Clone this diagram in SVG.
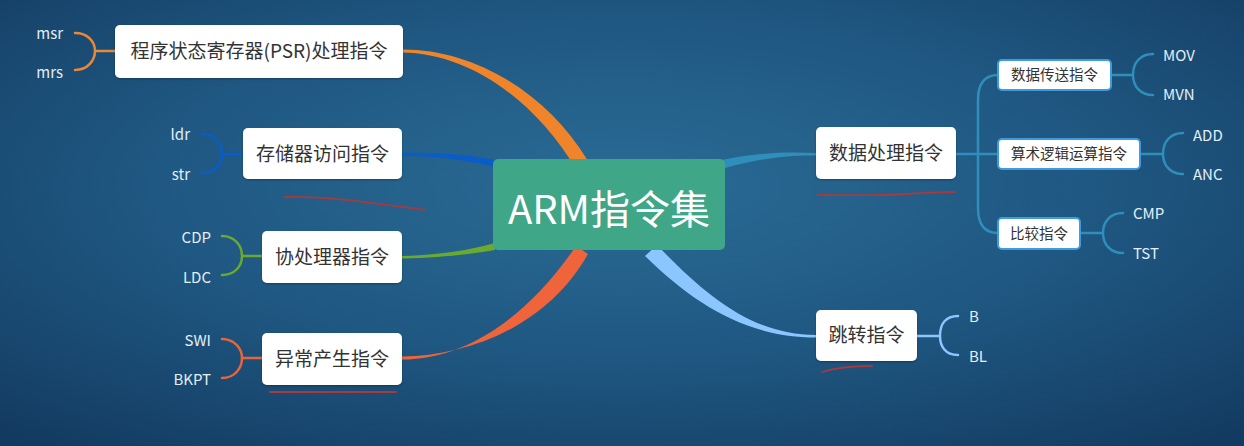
<svg xmlns="http://www.w3.org/2000/svg" width="1244" height="446" viewBox="0 0 1244 446">
<defs>
<radialGradient id="bg" cx="50%" cy="42%" r="75%">
<stop offset="0" stop-color="#2a6b95"/>
<stop offset="0.5" stop-color="#1f5882"/>
<stop offset="1" stop-color="#133a60"/>
</radialGradient>
<filter id="sh" x="-10%" y="-20%" width="120%" height="150%">
<feDropShadow dx="0" dy="1" stdDeviation="1.2" flood-color="#000" flood-opacity="0.3"/>
</filter>
</defs>
<style>
.box{fill:#ffffff;filter:url(#sh)}
.sub{fill:#ffffff;stroke:#3f9ae0;stroke-width:2}
.t{font-family:"Noto Sans CJK SC","Liberation Sans",sans-serif;fill:#333;text-anchor:middle}
.t19{font-size:19px}
.t15{font-size:14.5px}
.leaf{font-family:"Noto Sans CJK SC","Open Sans",sans-serif;font-size:15px;fill:#e4eef6}
.le{text-anchor:end}
.br{fill:none;stroke-width:2.5;stroke-linecap:round}
.ink{fill:none;stroke:#a83a3c;stroke-width:1.8;stroke-linecap:round}
</style>
<rect width="1244" height="446" fill="url(#bg)"/>

<g id="connectors">
<!-- main branches -->
<path d="M402,49.5 C472,49 546,91 588,161 L576,169 C534,99 468,53 402,52.5 Z" fill="#f0842a"/>
<path d="M402,356.5 C470,356 548,325 588,254 L576,246 C530,314 468,359.5 402,359.5 Z" fill="#f0643c"/>
<path d="M402,153 C440,152 470,155 495,160 L495,167 C470,161 440,156 402,155.5 Z" fill="#0a5cc8"/>
<path d="M402,256 C440,255 470,250 495,243 L495,250 C470,254 440,258 402,258.5 Z" fill="#6aaa2e"/>
<path d="M722,160 C760,152 790,152 816,153 L816,155.5 C790,155 760,158 722,169 Z" fill="#2f8fba"/>
<path d="M657,245 C705,295 752,335 816,335 L816,337.5 C748,337.5 695,305 645,256 Z" fill="#8cc6ff"/>
<!-- left brackets -->
<path class="br" stroke="#e8883a" d="M75,33 C88,33 95,42 95,51 C95,60 88,70 75,70 M95,51 L115,51"/>
<path class="br" stroke="#0a5cc8" d="M202,134 C215,134 222,144 222,154 C222,164 215,173 202,173 M222,154 L243,154"/>
<path class="br" stroke="#6aaa2e" d="M222,236 C235,236 242,246 242,256 C242,266 235,275 222,275 M242,256 L262,256"/>
<path class="br" stroke="#e8643c" d="M222,339 C235,339 242,349 242,358 C242,368 235,378 222,378 M242,358 L262,358"/>
<!-- right subtree -->
<path class="br" stroke="#2f8fba" d="M998,75 C983,75 978,85 978,100 L978,208 C978,223 983,233 998,233 M955,154 L998,154"/>
<path class="br" stroke="#2f8fba" d="M1111,75 L1133,75 M1153,54 C1140,54 1133,63 1133,75 C1133,86 1140,95 1153,95"/>
<path class="br" stroke="#2f8fba" d="M1140,154 L1163,154 M1183,133 C1170,133 1163,142 1163,154 C1163,165 1170,174 1183,174"/>
<path class="br" stroke="#2f8fba" d="M1080,233 L1103,233 M1123,213 C1110,213 1103,222 1103,233 C1103,244 1110,253 1123,253"/>
<path class="br" stroke="#8cc6ff" d="M917,336 L940,336 M958,316 C945,316 940,325 940,336 C940,346 945,355 958,355"/>
</g>

<g id="center">
<rect x="493" y="159" width="232" height="91" rx="5" fill="#3fa688"/>
<text x="609" y="224" font-family="'Noto Sans CJK SC','Open Sans',sans-serif" font-size="40" fill="#ffffff" text-anchor="middle">ARM指令集</text>
</g>

<g id="n-psr"><rect class="box" x="115" y="25" width="288" height="53" rx="5"/><text class="t t19" x="259" y="58">程序状态寄存器(PSR)处理指令</text></g>
<g id="n-mem"><rect class="box" x="243" y="128" width="159" height="51" rx="5"/><text class="t t19" x="322.5" y="161">存储器访问指令</text></g>
<g id="n-cop"><rect class="box" x="262" y="231" width="140" height="52" rx="5"/><text class="t t19" x="332" y="264">协处理器指令</text></g>
<g id="n-exc"><rect class="box" x="262" y="333" width="140" height="52" rx="5"/><text class="t t19" x="332" y="366">异常产生指令</text></g>
<g id="n-data"><rect class="box" x="816" y="127" width="140" height="52" rx="5"/><text class="t t19" x="886" y="160">数据处理指令</text></g>
<g id="n-jump"><rect class="box" x="816" y="310" width="101" height="51" rx="5"/><text class="t t19" x="866.5" y="342">跳转指令</text></g>

<g id="n-move"><rect class="sub" x="998" y="60" width="113" height="30" rx="4"/><text class="t t15" x="1054.5" y="80">数据传送指令</text></g>
<g id="n-alu"><rect class="sub" x="998" y="139" width="142" height="30" rx="4"/><text class="t t15" x="1069" y="159">算术逻辑运算指令</text></g>
<g id="n-cmp"><rect class="sub" x="998" y="218" width="82" height="31" rx="4"/><text class="t t15" x="1039" y="238.5">比较指令</text></g>

<g id="leaves">
<text class="leaf le" x="63" y="39">msr</text>
<text class="leaf le" x="63" y="78">mrs</text>
<text class="leaf le" x="190" y="140">ldr</text>
<text class="leaf le" x="190" y="180">str</text>
<text class="leaf le" x="211" y="243">CDP</text>
<text class="leaf le" x="211" y="283">LDC</text>
<text class="leaf le" x="211" y="346">SWI</text>
<text class="leaf le" x="211" y="385">BKPT</text>
<text class="leaf" x="1163" y="61">MOV</text>
<text class="leaf" x="1163" y="100">MVN</text>
<text class="leaf" x="1193" y="141">ADD</text>
<text class="leaf" x="1193" y="180">ANC</text>
<text class="leaf" x="1133" y="219">CMP</text>
<text class="leaf" x="1133" y="259">TST</text>
<text class="leaf" x="969" y="322">B</text>
<text class="leaf" x="969" y="362">BL</text>
</g>

<g id="annotations">
<path class="ink" d="M285,197 C330,196 380,204 425,210"/>
<path class="ink" d="M818,195 C850,195 880,196 905,194 C920,193 935,192 955,192"/>
<path class="ink" d="M822,372 C835,368 850,366 872,366"/>
<path class="ink" d="M270,392 L396,392"/>
</g>
</svg>
